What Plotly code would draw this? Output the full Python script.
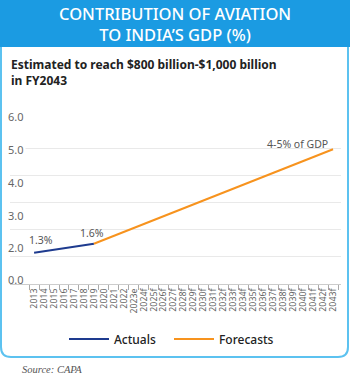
import plotly.graph_objects as go

# ---- data ----
categories = ["2013", "2014", "2015", "2016", "2017", "2018", "2019", "2020", "2021", "2022",
              "2023e", "2024f", "2025f", "2026f", "2027f", "2028f", "2029f", "2030f", "2031f",
              "2032f", "2033f", "2034f", "2035f", "2036f", "2037f", "2038f", "2039f", "2040f",
              "2041f", "2042f", "2043f"]
actual_years = ["2013", "2019"]
actual_vals = [1.15, 1.48]
forecast_years = ["2019", "2043f"]
forecast_vals = [1.48, 4.96]
ytick_labels = ["6.0", "5.0", "4.0", "3.0", "2.0", "0.0"]
point_labels = ["1.3%", "1.6%", "4-5% of GDP"]

# ---- layout geometry (pixels) ----
W_FIG, H_FIG = 350, 376
L, R, T, B = 10, 341, 121, 284
PW, PH = R - L, B - T


def px(x):
    return (x - L) / PW


def py(y):
    return (B - y) / PH


FONT = "Noto Sans"
BLUE_HDR = "#1b9be2"
BORDER = "#5cc2f0"
NAVY = "#1e3b8f"
ORANGE = "#f7931e"

fig = go.Figure()
fig.add_trace(go.Scatter(x=actual_years, y=actual_vals, mode="lines", name="Actuals",
                         line=dict(color=NAVY, width=2)))
fig.add_trace(go.Scatter(x=forecast_years, y=forecast_vals, mode="lines", name="Forecasts",
                         line=dict(color=ORANGE, width=2)))

annotations = []
# header title
annotations.append(dict(text="CONTRIBUTION OF AVIATION<br>TO INDIA\u2019S GDP (%)",
                        x=px(175), y=py(24), xref="paper", yref="paper", showarrow=False,
                        xanchor="center", yanchor="middle", align="center",
                        font=dict(family=FONT, size=16.5, color="white", weight=500)))
# subtitle
annotations.append(dict(text="Estimated to reach $800 billion-$1,000 billion<br>in FY2043",
                        x=px(9), y=py(72), xref="paper", yref="paper", showarrow=False,
                        xanchor="left", yanchor="middle", align="left",
                        font=dict(family=FONT, size=12, color="#222222", weight=700)))
# y tick labels
ytick_pos = [117, 149, 182, 215, 247, 279]
for t, yp in zip(ytick_labels, ytick_pos):
    annotations.append(dict(text=t, x=px(16), y=py(yp), xref="paper", yref="paper",
                            showarrow=False, xanchor="center", yanchor="middle",
                            bgcolor="white" if t == "5.0" else None, borderpad=1,
                            font=dict(family=FONT, size=11, color="#666666")))
# point labels
label_pos = [(41, 240), (92, 233), (297, 144)]
for t, (xp, yp) in zip(point_labels, label_pos):
    annotations.append(dict(text=t, x=px(xp), y=py(yp), xref="paper", yref="paper",
                            showarrow=False, xanchor="center", yanchor="middle",
                            font=dict(family=FONT, size=10.5, color="#555555")))
# source
annotations.append(dict(text="<i>Source: CAPA</i>", x=px(20), y=py(369), xref="paper", yref="paper",
                        showarrow=False, xanchor="left", yanchor="middle",
                        font=dict(family="Liberation Serif", size=10.5, color="#555555")))

# card border path (rounded bottom corners)
r = 10
xl, xr, yt, yb = 1, 348, 47, 357
path = (f"M {px(xl)},{py(yt)} L {px(xl)},{py(yb - r)} "
        f"Q {px(xl)},{py(yb)} {px(xl + r)},{py(yb)} "
        f"L {px(xr - r)},{py(yb)} Q {px(xr)},{py(yb)} {px(xr)},{py(yb - r)} "
        f"L {px(xr)},{py(yt)}")
shapes = [
    dict(type="rect", xref="paper", yref="paper", x0=px(0), x1=px(350), y0=py(0), y1=py(47),
         fillcolor=BLUE_HDR, line=dict(width=0), layer="below"),
    dict(type="path", xref="paper", yref="paper", path=path,
         line=dict(color=BORDER, width=2), layer="below"),
]

fig.update_layout(
    width=W_FIG, height=H_FIG,
    margin=dict(l=L, r=W_FIG - R, t=T, b=H_FIG - B),
    paper_bgcolor="white", plot_bgcolor="white",
    showlegend=True,
    legend=dict(orientation="h", x=px(64), y=py(339), xanchor="left", yanchor="middle",
                font=dict(family=FONT, size=12, color="#222222", weight=500),
                itemwidth=40, bgcolor="rgba(0,0,0,0)", entrywidth=50, tracegroupgap=0),
    annotations=annotations,
    shapes=shapes,
    xaxis=dict(type="category", categoryorder="array", categoryarray=categories,
               tickmode="array", tickvals=categories, ticktext=categories,
               range=[-2.42, 30.8], tickson="boundaries", ticks="outside", ticklen=5,
               tickcolor="#aaaaaa", showline=True, linecolor="#cccccc", linewidth=1,
               showgrid=False, tickangle=-90, tickfont=dict(family=FONT, size=8.8, color="#666666"),
               fixedrange=True),
    yaxis=dict(range=[0, 6], dtick=1, showgrid=True, gridcolor="#e9e9e9", gridwidth=1,
               showticklabels=False, zeroline=False, fixedrange=True),
)

fig.write_html("out.html")
